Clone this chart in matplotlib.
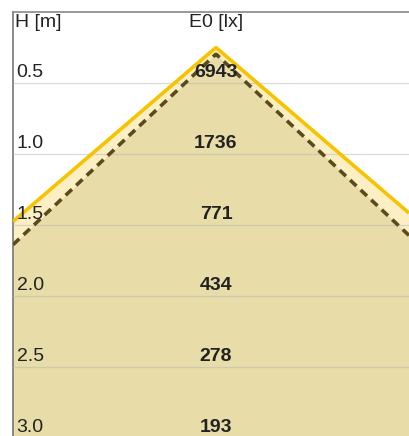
import numpy as np
import matplotlib.pyplot as plt

plt.rcParams["font.family"] = ["Liberation Sans", "DejaVu Sans"]

# Data
heights = [0.5, 1.0, 1.5, 2.0, 2.5, 3.0]          # H [m]
illuminance = [6943, 1736, 771, 434, 278, 193]    # E0 [lx]
outer_half_angle = 49.4    # deg, yellow beam edge
inner_half_angle = 46.8    # deg, dashed beam edge
outer_apex = 0.50          # H where the outer cone starts
inner_apex = 0.546         # H where the inner cone starts

fig = plt.figure(figsize=(4.09, 4.36), dpi=100)
ax = fig.add_axes([13 / 409, 0, 396 / 409, 424 / 436])

x_left, x_right = -1.43, 1.36
y_top, y_bottom = 0.25, 3.236
ax.set_xlim(x_left, x_right)
ax.set_ylim(y_bottom, y_top)

xs = np.linspace(x_left, x_right, 400)
outer = outer_apex + np.abs(xs) / np.tan(np.radians(outer_half_angle))
inner = inner_apex + np.abs(xs) / np.tan(np.radians(inner_half_angle))

# fills: light band between cones, tan inside inner cone
ax.fill_between(xs, outer, y_bottom, color="#FCEFC4", zorder=1, lw=0)
ax.fill_between(xs, inner, y_bottom, color="#E8DCA9", zorder=2, lw=0)

# grid lines between rows
for h in heights[:-1]:
    ax.axhline(h + 0.25, color="#B8B8B8", lw=0.9, alpha=0.5, zorder=3)

ax.plot(xs, outer, color="#F7C300", lw=2.6, zorder=4, solid_capstyle="butt")
ax.plot(xs, inner, color="#5B4B1C", lw=2.6, ls=(0, (2.4, 1.6)), zorder=4)

# row labels and values
fs = 14
for h, e in zip(heights, illuminance):
    y = h + 0.208
    ax.text(x_left + 0.025, y, f"{h:.1f}", fontsize=fs, color="#222222",
            va="baseline", ha="left", zorder=5)
    ax.text(0, y, str(e), fontsize=fs, fontweight="bold", color="#222222",
            va="baseline", ha="center", zorder=5)

ax.text(x_left + 0.012, 0.262, "H [m]", fontsize=fs, color="#222222",
        va="top", ha="left", zorder=5)
ax.text(0, 0.262, "E0 [lx]", fontsize=fs, color="#222222",
        va="top", ha="center", zorder=5)

for side in ["right", "bottom"]:
    ax.spines[side].set_visible(False)
ax.spines["left"].set_color("#777777")
ax.spines["top"].set_color("#888888")
ax.spines["left"].set_linewidth(1.2)
ax.spines["top"].set_linewidth(1.2)
ax.set_xticks([])
ax.set_yticks([])
ax.set_facecolor("white")

plt.savefig("out.png", dpi=100)
